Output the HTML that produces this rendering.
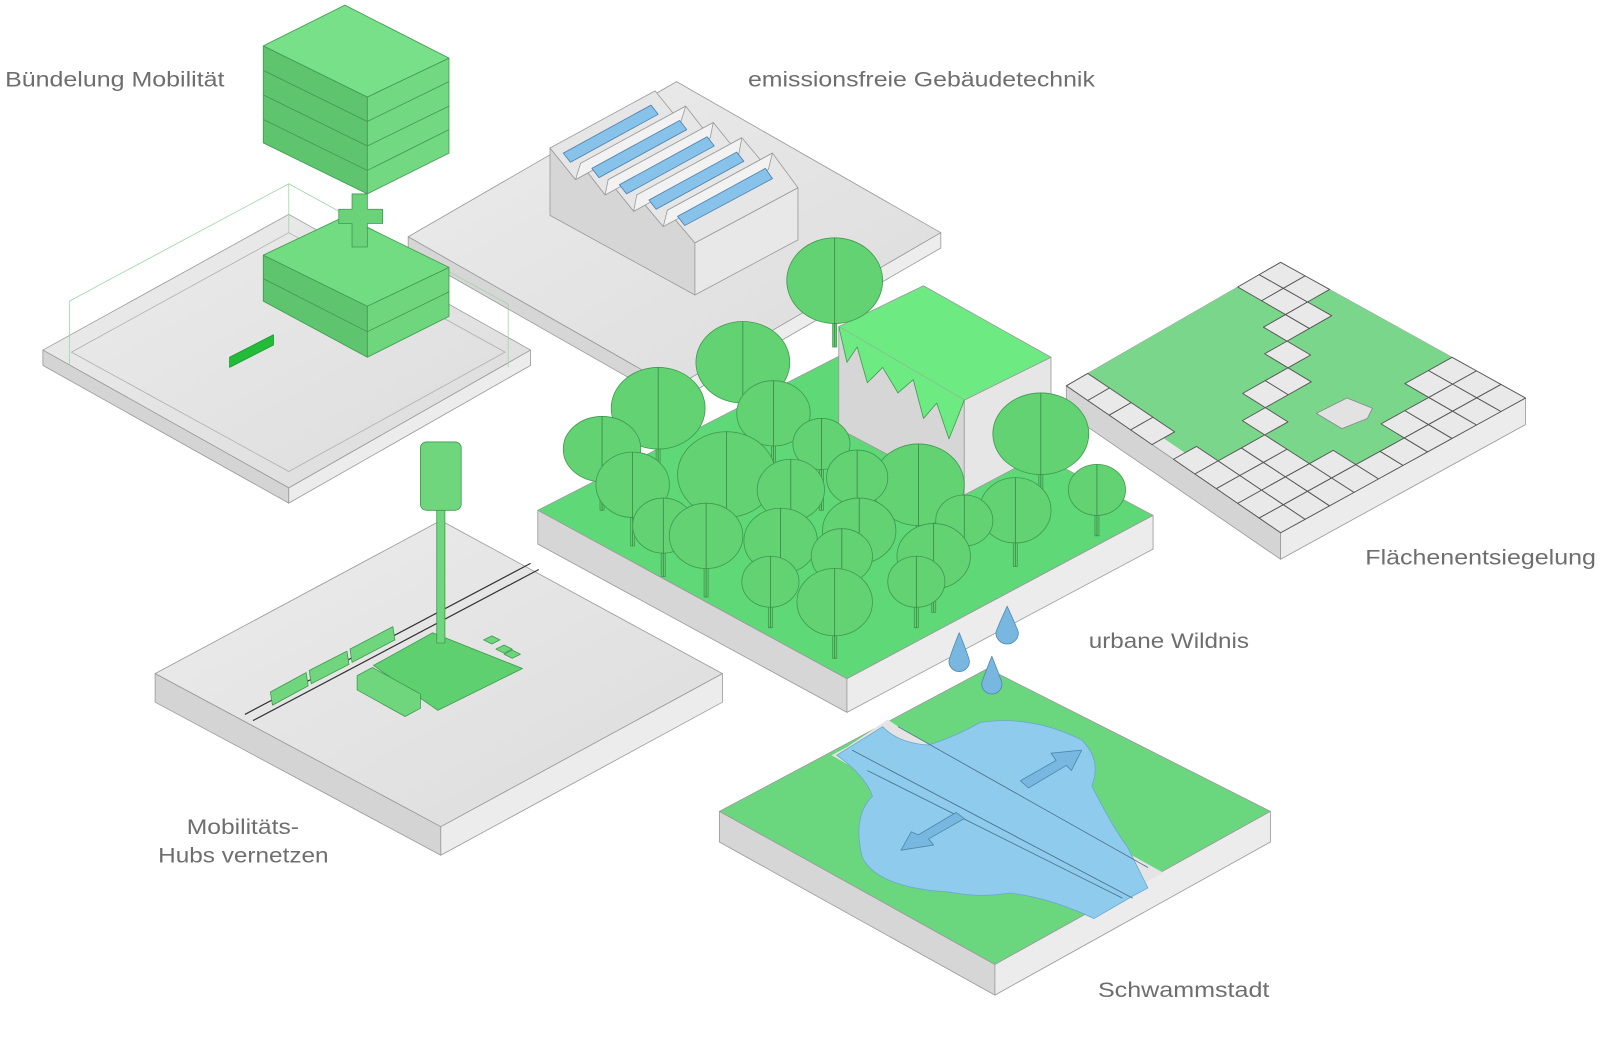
<!DOCTYPE html>
<html><head><meta charset="utf-8">
<style>html,body{margin:0;padding:0;background:#fff;width:1600px;height:1040px;overflow:hidden}svg{display:block}
text{font-family:"Liberation Sans",sans-serif;fill:#6e6e6e;font-size:21px}</style></head>
<body>
<svg id="s" width="1600" height="1040" viewBox="0 0 1568 1019" preserveAspectRatio="none" xmlns="http://www.w3.org/2000/svg">
<defs>
<linearGradient id="gt" x1="0" y1="0" x2="1" y2="1"><stop offset="0" stop-color="#ececec"/><stop offset="1" stop-color="#dcdcdc"/></linearGradient>
</defs>
<g stroke="#9a9a9a" stroke-width="0.8" stroke-linejoin="round">

<polygon points="400,232 663,80 922,228 660,380" fill="url(#gt)"/>
<polygon points="400,232 660,380 660,395 400,247" fill="#d6d6d6"/>
<polygon points="660,380 922,228 922,243 660,395" fill="#ededed"/>
<polygon points="539,211 539,145 564,176 569,160 593,191 596,176 621,207 624,191 650,222 654,206 681,238 681,289" fill="#d6d6d6"/>
<polygon points="681,238 782,184 782,235 681,289" fill="#e8e8e8"/>
<g fill="#e6e6e6">
<polygon points="539,145 642,89 667,120 564,176"/>
<polygon points="569,160 672,104 696,135 593,191"/>
<polygon points="596,176 699,120 724,151 621,207"/>
<polygon points="624,191 727,135 753,166 650,222"/>
<polygon points="654,206 757,150 782,184 681,238"/>
</g>
<g fill="#f2f2f2">
<polygon points="564,176 667,120 672,104 569,160"/>
<polygon points="593,191 696,135 699,120 596,176"/>
<polygon points="621,207 724,151 727,135 624,191"/>
<polygon points="650,222 753,166 757,150 654,206"/>
</g>
<g fill="#86c2ea" stroke="#4f7fa8" stroke-width="0.8">
<polygon points="552,150 638,103 645,112 559,159"/>
<polygon points="580,165 666,118 673,127 587,174"/>
<polygon points="607,181 693,134 700,143 614,190"/>
<polygon points="636,196 722,149 729,158 643,205"/>
<polygon points="664,212 750,165 757,175 671,221"/>
</g>

<polygon points="42,343 283,210 520,343 283,478" fill="url(#gt)"/>
<polygon points="42,343 283,478 283,493 42,358" fill="#d4d4d4"/>
<polygon points="283,478 520,343 520,358 283,493" fill="#ececec"/>
<polygon points="70,345 283,228 495,345 283,462" fill="none" stroke="#b0b0b0"/>
<g stroke="#9fd6a8" fill="none">
<polyline points="68,358 68,295 283,180 498,298 498,360"/>
<line x1="283" y1="180" x2="283" y2="228"/>
</g>
<polygon points="225,350 268,328 268,338 225,360" fill="#22bb3a" stroke="#169a2c"/>
<polygon points="258,250 360,300 360,350 258,295" fill="#5fc46e" stroke="#3f9a4e"/>
<polygon points="360,300 440,262 440,310 360,350" fill="#6fd67e" stroke="#3f9a4e"/>
<polygon points="258,250 338,212 440,262 360,300" fill="#72dc82" stroke="#3f9a4e"/>
<polyline points="258,273 360,325 440,286" fill="none" stroke="#3f9a4e"/>
<polygon points="345,190 360,190 360,205 375,205 375,219 360,219 360,242 345,242 345,219 332,219 332,205 345,205" fill="#6ad37a" stroke="#3f9a4e"/>
<polygon points="258,45 360,95 360,190 258,140" fill="#5fc46e" stroke="#3f9a4e"/>
<polygon points="360,95 440,57 440,150 360,190" fill="#72d982" stroke="#3f9a4e"/>
<polygon points="258,45 338,5 440,57 360,95" fill="#78e088" stroke="#3f9a4e"/>
<g fill="none" stroke="#3f9a4e">
<polyline points="258,69 360,119 440,80"/>
<polyline points="258,93 360,143 440,104"/>
<polyline points="258,117 360,167 440,127"/>
</g>

<polygon points="1045,378 1255,257 1495,390 1255,522" fill="#e8e8e8"/>
<polygon points="1045,378 1255,522 1255,548 1045,404" fill="#d4d4d4"/>
<polygon points="1255,522 1495,390 1495,416 1255,548" fill="#ececec"/>
<g id="tiles"></g>

<polygon points="152,660 432,510 708,660 432,810" fill="url(#gt)"/>
<polygon points="152,660 432,810 432,838 152,688" fill="#d4d4d4"/>
<polygon points="432,810 708,660 708,688 432,838" fill="#ececec"/>
<line x1="240" y1="700" x2="520" y2="552" stroke="#333" stroke-width="1.2"/>
<line x1="248" y1="706" x2="528" y2="558" stroke="#333" stroke-width="1.2"/>
<polygon points="366,652 424,620 512,655 429,696" fill="#5fd06f" stroke="#3f9a4e"/>
<g fill="#6fd67e" stroke="#3f9a4e">
<polygon points="265,678 300,659 302,672 267,691"/>
<polygon points="303,657 340,638 342,651 305,670"/>
<polygon points="343,636 385,614 387,627 345,649"/>
<polygon points="350,662 365,654 412,680 412,694 397,702 350,676"/>
<polygon points="474,627 482,623 490,627 482,631"/>
<polygon points="486,636 494,632 502,636 494,640"/>
<polygon points="494,641 502,637 510,641 502,645"/>
</g>
<rect x="428" y="495" width="8" height="135" fill="#6fd67e" stroke="#3f9a4e"/>
<rect x="412" y="433" width="40" height="67" rx="6" fill="#6fd67e" stroke="#3f9a4e"/>

<polygon points="527,500 830,345 1130,505 830,665" fill="#5fd878"/>
<polygon points="527,500 830,665 830,698 527,533" fill="#d6d6d6"/>
<polygon points="830,665 1130,505 1130,538 830,698" fill="#ececec"/>
<polygon points="822,320 945,392 945,485 822,420" fill="#d6d6d6"/>
<polygon points="945,392 1030,350 1030,440 945,485" fill="#e6e6e6"/>
<polygon points="822,320 905,280 1030,350 945,392" fill="#6eea82"/>
<polyline points="822,320 830,355 840,340 850,375 865,360 880,385 895,372 905,410 918,395 930,430 940,405 945,392" fill="#6eea82" stroke="#3f9a4e"/>
<g id="trees" stroke="#3f9a4e" stroke-width="0.8"></g>

<polygon points="705,795 968,655 1245,795 975,945" fill="#6ad77e"/>
<polygon points="705,795 975,945 975,975 705,825" fill="#d6d6d6"/>
<polygon points="975,945 1245,795 1245,825 975,975" fill="#ececec"/>
<polygon points="815,740 830,732 870,705 885,715 1140,855 1122,865 1080,885 1060,880" fill="#e4e4e4" stroke="none"/>
<path d="M820,740 L865,712 Q880,728 910,730 Q940,720 960,708 Q1010,700 1060,725 Q1080,745 1070,770 Q1090,810 1105,830 Q1115,850 1125,870 L1110,878 L1072,900 Q1030,880 990,875 Q960,880 930,874 Q860,870 845,840 Q835,800 855,780 Q848,760 820,740Z" fill="#8fcbec" stroke="#6aa8cc"/>
<g stroke="#4a6f88" stroke-width="0.8" fill="none">
<line x1="835" y1="735" x2="1110" y2="880"/>
<line x1="850" y1="755" x2="1100" y2="880"/>
<line x1="880" y1="712" x2="1125" y2="850"/>
</g>
<g fill="#78b8e0" stroke="#4f87ad">
<polygon points="1000,765 1035,745 1030,738 1060,735 1050,755 1045,750 1008,772"/>
<polygon points="945,802 910,822 915,828 883,833 893,815 900,818 937,796"/>
<path d="M940,620 Q930,645 930,648 A10,10 0 0 0 950,648 Q950,645 940,620Z"/>
<path d="M987,594 Q976,618 976,620 A11,11 0 0 0 998,620 Q998,618 987,594Z"/>
<path d="M972,643 Q962,668 962,670 A10,10 0 0 0 982,670 Q982,668 972,643Z"/>
</g>
</g>

<text x="5" y="85" textLength="215" lengthAdjust="spacingAndGlyphs">Bündelung Mobilität</text>
<text x="733" y="85" textLength="340" lengthAdjust="spacingAndGlyphs">emissionsfreie Gebäudetechnik</text>
<text x="1338" y="553" textLength="226" lengthAdjust="spacingAndGlyphs">Flächenentsiegelung</text>
<text x="1067" y="635" textLength="157" lengthAdjust="spacingAndGlyphs">urbane Wildnis</text>
<text x="183" y="817" textLength="110" lengthAdjust="spacingAndGlyphs">Mobilitäts-</text>
<text x="155" y="845" textLength="167" lengthAdjust="spacingAndGlyphs">Hubs vernetzen</text>
<text x="1076" y="977" textLength="168" lengthAdjust="spacingAndGlyphs">Schwammstadt</text>
</svg>
<script>
(function(){
var NS="http://www.w3.org/2000/svg";
function el(n,a,p){var e=document.createElementNS(NS,n);for(var k in a)e.setAttribute(k,a[k]);p.appendChild(e);return e;}
var L=[1045,378],F=[1255,522],R=[1495,390],B=[1255,257];
function P(u,v){u/=10;v/=10;
 var x=L[0]*(1-u)*(1-v)+F[0]*u*(1-v)+R[0]*u*v+B[0]*(1-u)*v;
 var y=L[1]*(1-u)*(1-v)+F[1]*u*(1-v)+R[1]*u*v+B[1]*(1-u)*v;return [x,y];}
function pts(a){return a.map(function(q){var p=P(q[0],q[1]);return p[0].toFixed(1)+","+p[1].toFixed(1);}).join(" ");}
var t=document.getElementById("tiles");
var g1=[[0,1],[0,8],[2,8],[2,7],[3,7],[3,6],[4,6],[4,4],[5,4],[5,3],[6,3],[6,1],[5,1],[5,0.5],[4,0.5],[4,1]];
var g2=[[2,10],[7,10],[7,8],[8,8],[8,6],[9,6],[9,4],[8,4],[8,3],[6,3],[6,4],[5,4],[5,6],[4,6],[4,7],[3,7],[3,8],[3,9],[2,9]];
el("polygon",{points:pts(g1),fill:"#7ad68b",stroke:"none"},t);
el("polygon",{points:pts(g2),fill:"#7ad68b",stroke:"none"},t);
function inPoly(x,y,poly){var c=false;for(var i=0,j=poly.length-1;i<poly.length;j=i++){var xi=poly[i][0],yi=poly[i][1],xj=poly[j][0],yj=poly[j][1];if(((yi>y)!=(yj>y))&&(x<(xj-xi)*(y-yi)/(yj-yi)+xi))c=!c;}return c;}
for(var u=0;u<10;u++)for(var v=0;v<10;v++){var cx=u+0.5,cy=v+0.5;
 var isG=inPoly(cx,cy,g1)||inPoly(cx,cy,g2);
 if(!isG){el("polygon",{points:pts([[u,v],[u+1,v],[u+1,v+1],[u,v+1]]),fill:"#e9e9e9",stroke:"#555","stroke-width":"0.9"},t);}
}
el("polygon",{points:"1290,405 1320,390 1345,400 1340,410 1315,420",fill:"#e2e2e2",stroke:"#888"},t);
var T=[[818,275,47,42,240,340],[728,355,46,40,320,420],[645,400,46,40,365,470],[1020,425,47,40,390,495],[758,405,36,32,375,480],[590,440,38,32,410,500],[805,435,28,25,410,500],[620,475,36,32,445,535],[712,465,48,42,425,540],[900,475,45,40,435,545],[775,480,33,30,450,550],[840,468,30,27,440,540],[995,500,35,32,470,555],[1075,480,28,25,455,525],[650,515,30,27,490,565],[945,510,28,25,485,560],[692,525,36,32,495,585],[765,530,36,32,500,590],[842,520,36,32,490,580],[915,545,36,32,515,600],[825,545,30,27,520,600],[755,570,28,25,545,615],[898,570,28,25,545,615],[818,590,37,33,555,645]];
var tg=document.getElementById("trees");
T.forEach(function(a){
 el("rect",{x:a[0]-2,y:a[1],width:4,height:a[5]-a[1],fill:"#5fcf70"},tg);
 el("ellipse",{cx:a[0],cy:a[1],rx:a[2],ry:a[3],fill:"#62d273"},tg);
 el("line",{x1:a[0],y1:a[1]-a[3],x2:a[0],y2:a[5],stroke:"#3a7a46","stroke-width":"0.7"},tg);
});
})();
</script>
</body></html>
